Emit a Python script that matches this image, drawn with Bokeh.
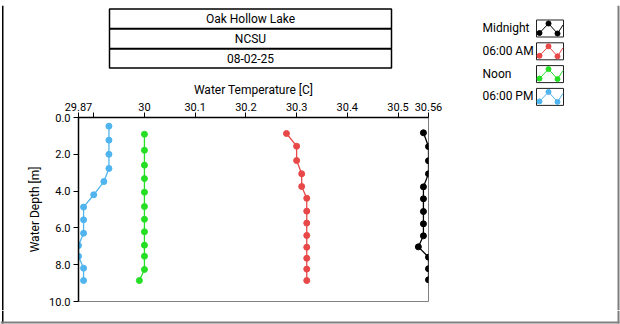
from bokeh.plotting import figure
from bokeh.layouts import row, column
from bokeh.models import Range1d, FixedTicker, NumeralTickFormatter
from bokeh.core.properties import value
from bokeh.embed import file_html
from bokeh.resources import INLINE

# ---------------- data ----------------
series_names = ["Midnight", "06:00 AM", "Noon", "06:00 PM"]
series_colors = ["#000000", "#E84848", "#25DF25", "#50B4EE"]

midnight_depth = [0.83, 1.58, 2.35, 3.06, 3.77, 4.42, 5.11, 5.78, 6.43, 7.03, 7.59, 8.22, 8.82]
midnight_temp = [30.55, 30.56, 30.56, 30.56, 30.55, 30.55, 30.55, 30.55, 30.55, 30.54, 30.56, 30.56, 30.56]

sixam_depth = [0.87, 1.56, 2.34, 3.06, 3.75, 4.39, 5.09, 5.74, 6.41, 7.05, 7.65, 8.24, 8.86]
sixam_temp = [30.28, 30.30, 30.30, 30.31, 30.31, 30.32, 30.32, 30.32, 30.32, 30.32, 30.32, 30.32, 30.32]

noon_depth = [0.91, 1.78, 2.59, 3.32, 4.06, 4.84, 5.53, 6.21, 6.94, 7.54, 8.26, 8.86]
noon_temp = [30.00, 30.00, 30.00, 30.00, 30.00, 30.00, 30.00, 30.00, 30.00, 30.00, 30.00, 29.99]

sixpm_depth = [0.47, 1.23, 2.00, 2.77, 3.48, 4.20, 4.87, 5.56, 6.29, 6.96, 7.54, 8.19, 8.86]
sixpm_temp = [29.93, 29.93, 29.93, 29.93, 29.92, 29.90, 29.88, 29.88, 29.88, 29.87, 29.87, 29.88, 29.88]

x_ticks = [29.87, 30.0, 30.1, 30.2, 30.3, 30.4, 30.5, 30.56]
x_tick_labels = ["29.87", "30", "30.1", "30.2", "30.3", "30.4", "30.5", "30.56"]
x_minor_ticks = [29.9]
y_ticks = [0, 2, 4, 6, 8, 10]

title_lines = ["Oak Hollow Lake", "NCSU", "08-02-25"]
x_title = "Water Temperature [C]"
y_title = "Water Depth [m]"

# ---------------- layout constants (canvas pixels) ----------------
W, H = 620, 324
TOP_H = 5           # top border strip height
LEFT_W = 12         # left column width
MID_R = 445         # right edge of middle column
HEAD_B = 78         # header bottom
BOT_Y = 310         # bottom strip top
FL, FR, FT, FB = 78, 428, 117, 301   # plot frame
FONT = "Roboto"
BLACK = "#000000"
GRAY = "#7f7f7f"


def deco_fig(x0, x1, y0, y1, xr=None):
    xr = xr or (x0, x1)
    f = figure(width=x1 - x0, height=y1 - y0, output_backend="svg", toolbar_location=None,
               x_range=Range1d(*xr), y_range=Range1d(y1, y0),
               x_axis_type=None, y_axis_type=None, min_border=0)
    f.outline_line_color = None
    f.background_fill_color = "white"
    f.border_fill_color = "white"
    f.grid.visible = False
    return f


def txt(f, xs, ys, texts, align="center", size="12px"):
    f.text(x=xs, y=ys, text=texts, text_font=value(FONT), text_font_size=value(size),
           text_color="black", text_align=align, text_baseline="middle")


def band(f, l, r, t, b, color):
    f.quad(left=[l], right=[r], top=[t], bottom=[b], fill_color=color, line_color=None)


# ---- top strip ----
top = deco_fig(0, W, 0, TOP_H)
band(top, 0, 617, 0, 1.5, BLACK)
band(top, 1.5, 3, 0, TOP_H, BLACK)
band(top, 617, 619, 0, TOP_H, GRAY)

# ---- left column ----
left = deco_fig(0, LEFT_W, TOP_H, BOT_Y)
band(left, 1.5, 3, TOP_H, BOT_Y, BLACK)

# ---- header (its frame is aligned with the plot frame by the column layout) ----
head = deco_fig(LEFT_W, MID_R, TOP_H, HEAD_B, xr=(FL, FR))
row_tops = [8.5, 28.5, 48.5]
row_bottoms = [28.0, 48.0, 67.5]
head.quad(left=[109] * 3, right=[391] * 3, top=row_tops, bottom=row_bottoms,
          fill_color="white", line_color="black", line_width=1.5)
txt(head, [250] * 3, [(t + b) / 2 for t, b in zip(row_tops, row_bottoms)], title_lines)

# ---- main plot ----
p = figure(width=MID_R - LEFT_W, height=BOT_Y - HEAD_B, output_backend="svg", toolbar_location=None,
           x_range=Range1d(29.87, 30.56), y_range=Range1d(10, 0),
           x_axis_location="above",
           min_border_left=FL - LEFT_W, min_border_right=MID_R - FR,
           min_border_top=FT - HEAD_B, min_border_bottom=BOT_Y - FB)
p.background_fill_color = "white"
p.border_fill_color = "white"
p.outline_line_color = "#808080"
p.outline_line_width = 1
p.xgrid.visible = False
p.ygrid.visible = False

xa = p.xaxis[0]
xa.ticker = FixedTicker(ticks=x_ticks, minor_ticks=x_minor_ticks)
xa.major_label_overrides = dict(zip(x_ticks, x_tick_labels))
xa.axis_label = x_title
ya = p.yaxis[0]
ya.ticker = FixedTicker(ticks=y_ticks)
ya.formatter = NumeralTickFormatter(format="0.0")
ya.axis_label = y_title
for ax in (xa, ya):
    ax.axis_line_color = "black"
    ax.axis_line_width = 1.5
    ax.major_tick_line_color = "black"
    ax.minor_tick_line_color = "black"
    ax.major_tick_out = 5
    ax.major_tick_in = 0
    ax.minor_tick_out = 5
    ax.minor_tick_in = 0
    ax.major_label_text_font = FONT
    ax.major_label_text_font_size = "11px"
    ax.major_label_text_color = "black"
    ax.axis_label_text_font = FONT
    ax.axis_label_text_font_size = "12px"
    ax.axis_label_text_font_style = "normal"
    ax.axis_label_text_color = "black"
xa.major_label_standoff = 2
xa.axis_label_standoff = 3
ya.major_label_standoff = 3
ya.axis_label_standoff = 4
ya.minor_tick_out = 0

series = [(midnight_temp, midnight_depth), (sixam_temp, sixam_depth),
          (noon_temp, noon_depth), (sixpm_temp, sixpm_depth)]
for (t, d), c in zip(series, series_colors):
    p.line(t, d, line_color=c, line_width=1.3)
    p.scatter(t, d, marker="circle", size=6, fill_color=c, line_color=c)

# ---- right column with legend ----
rt = deco_fig(MID_R, W, TOP_H, BOT_Y)
band(rt, 617, 619, TOP_H, BOT_Y, GRAY)

LX, BL, BR, BH, STEP, TOP0 = 482, 536, 563, 17, 22.8, 19.5
tops = [TOP0 + STEP * i for i in range(len(series_names))]
txt(rt, [LX] * len(series_names), [t + 8 for t in tops], series_names, align="left")
rt.quad(left=[BL] * 4, right=[BR] * 4, top=tops, bottom=[t + BH for t in tops],
        fill_color="white", line_color="#202020", line_width=1)
rel = [(1, 15), (3, 13), (12, 3.5), (21, 13.5), (26.5, 5)]
for t, c in zip(tops, series_colors):
    xs = [BL + dx for dx, dy in rel]
    ys = [t + dy for dx, dy in rel]
    rt.line(xs, ys, line_color=c, line_width=1)
    rt.scatter(xs[1:4], ys[1:4], marker="circle", size=5, fill_color=c, line_color=c)

# ---- bottom strip ----
bot = deco_fig(0, W, BOT_Y, H)
band(bot, 1.5, 3, BOT_Y, 323, BLACK)
band(bot, 617, 619, BOT_Y, 323, GRAY)
band(bot, 0, 619, 321, 323, GRAY)

root = column(top, row(left, column(head, p), rt), bot)
open("out.html", "w").write(file_html(root, INLINE))
